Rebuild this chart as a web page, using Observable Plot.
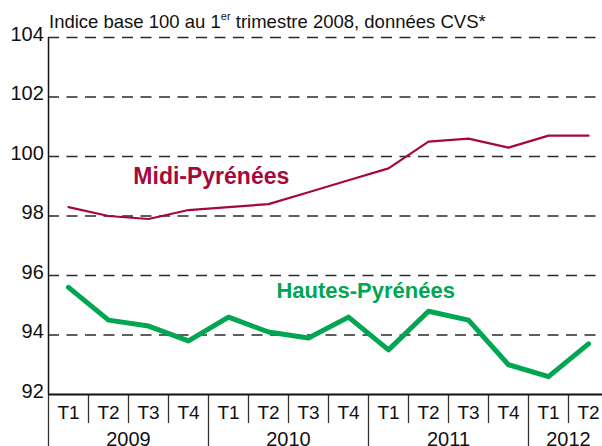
<!DOCTYPE html>
<html><head><meta charset="utf-8">
<script src="https://cdn.jsdelivr.net/npm/d3@7"></script>
<script src="https://cdn.jsdelivr.net/npm/@observablehq/plot@0.6"></script>
<style>
body{margin:0;background:#fff;}
#wrap{position:relative;width:602px;height:446px;overflow:hidden;font-family:"Liberation Sans",Arial,sans-serif;}
#sub{position:absolute;left:49px;top:12.6px;font-size:18.5px;line-height:1;white-space:nowrap;color:#111;z-index:2;}
#sub sup{font-size:0.6em;vertical-align:baseline;position:relative;top:-0.72em;}
#chart{position:absolute;left:0;top:0;}
</style></head><body>
<div id="wrap"><div id="chart"></div><div id="sub">Indice base 100 au 1<sup>er</sup> trimestre 2008, données CVS*</div></div>
<script>
const quarters = ["T1","T2","T3","T4","T1","T2","T3","T4","T1","T2","T3","T4","T1","T2"];
const years = ["2009","2010","2011","2012"];
const yearFirstQuarter = [0,4,8,12];
const yearQuarterCount = [4,4,4,2];
const midiPyrenees = [98.3, 98.0, 97.9, 98.2, 98.3, 98.4, 98.8, 99.2, 99.6, 100.5, 100.6, 100.3, 100.7, 100.7];
const hautesPyrenees = [95.6, 94.5, 94.3, 93.8, 94.6, 94.1, 93.9, 94.6, 93.5, 94.8, 94.5, 93.0, 92.6, 93.7];
const yTicks = [92, 94, 96, 98, 100, 102, 104];
const seriesNames = ["Midi-Pyrénées", "Hautes-Pyrénées"];

const red = "#a5093c", green = "#00a651";
const idx = d3.range(quarters.length);
const rowsMidi = idx.map(i => ({i, v: midiPyrenees[i]}));
const rowsHautes = idx.map(i => ({i, v: hautesPyrenees[i]}));
const boundaries = idx.map(i => i - 0.5);
const yearBounds = yearFirstQuarter.map(q => q - 0.5);
const innerBounds = boundaries.filter(b => !yearBounds.includes(b));
const yearCenters = yearFirstQuarter.map((q, k) => q + (yearQuarterCount[k] - 1) / 2);

const chart = Plot.plot({
  width: 602, height: 446,
  marginTop: 37, marginBottom: 52, marginLeft: 48, marginRight: 0,
  style: {fontFamily: "Liberation Sans, Arial, sans-serif", background: "transparent", color: "#111"},
  x: {type: "linear", domain: [-0.5, 13.35], axis: null},
  y: {domain: [92, 104], axis: null},
  marks: [
    Plot.ruleY(yTicks.filter(d => d > 92), {stroke: "#2a2a2a", strokeWidth: 1.3, strokeDasharray: "11,7.5"}),
    Plot.axisX(innerBounds, {tickSize: 29, tickFormat: () => "", label: null, stroke: "#333", strokeWidth: 1.3}),
    Plot.axisX(yearBounds, {tickSize: 52, tickFormat: () => "", label: null, stroke: "#333", strokeWidth: 1.3}),
    Plot.axisX(idx, {tickSize: 0, tickPadding: 11, tickFormat: i => quarters[i], label: null, fontSize: 19}),
    Plot.axisX(yearCenters, {tickSize: 0, tickPadding: 37, tickFormat: d => years[yearCenters.indexOf(d)], label: null, fontSize: 20}),
    Plot.axisY(yTicks, {tickSize: 0, tickPadding: 4.7, fontSize: 20, dy: -3, label: null}),
    Plot.ruleX([-0.5], {stroke: "#111", strokeWidth: 1.5}),
    Plot.ruleY([92], {stroke: "#111", strokeWidth: 2}),
    Plot.line(rowsMidi, {x: "i", y: "v", stroke: red, strokeWidth: 2.2}),
    Plot.line(rowsHautes, {x: "i", y: "v", stroke: green, strokeWidth: 5}),
    Plot.text([seriesNames[0]], {x: 3.57, y: 99.07, text: d => d, fill: red, fontSize: 23, fontWeight: "bold", textAnchor: "middle", lineAnchor: "bottom"}),
    Plot.text([seriesNames[1]], {x: 7.43, y: 95.24, text: d => d, fill: green, fontSize: 22, fontWeight: "bold", textAnchor: "middle", lineAnchor: "bottom"})
  ]
});
document.getElementById("chart").appendChild(chart);
</script>
</body></html>
